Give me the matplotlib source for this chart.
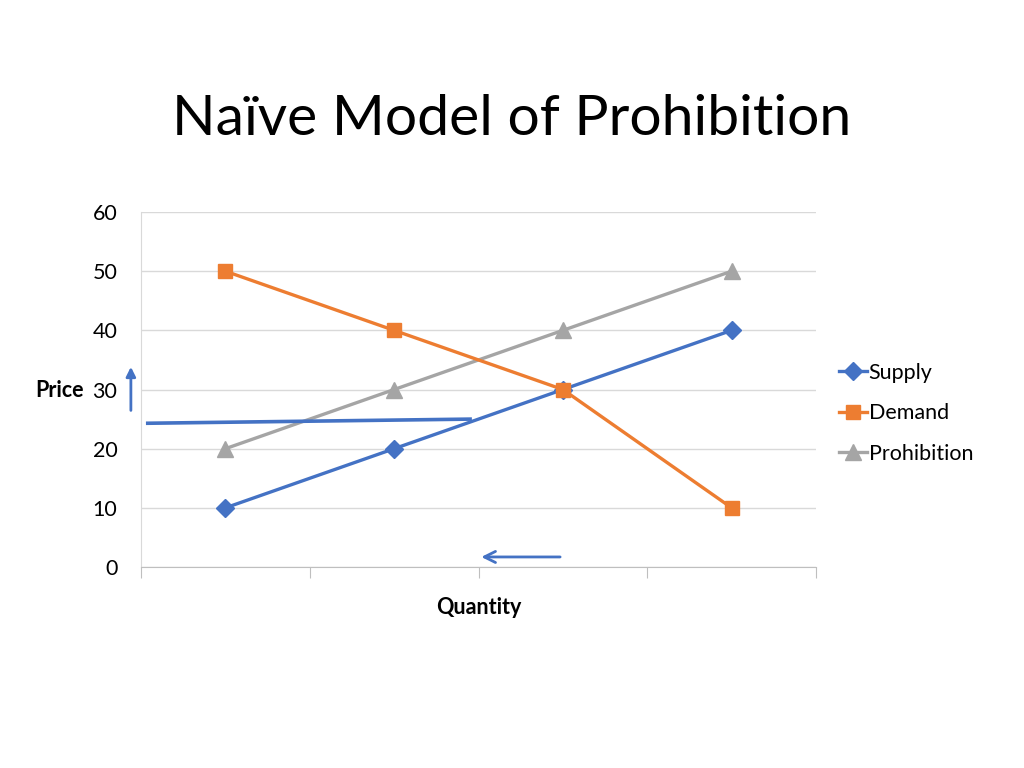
import numpy as np
import matplotlib.pyplot as plt
from matplotlib.lines import Line2D

# chart data
categories = ['1', '2', '3', '4']
supply = [10, 20, 30, 40]
demand = [50, 40, 30, 10]
prohibition = [20, 30, 40, 50]

# hand-drawn annotations (data units: x = category index, y = price)
shift_line_x = [-0.46, 1.45]
shift_line_y = [24.3, 25.0]
up_arrow = ((-0.56, 26.0), (-0.56, 34.3))
left_arrow = ((2.0, 1.7), (1.5, 1.7))

BLUE = '#4472C4'
ORANGE = '#ED7D31'
GRAY = '#A5A5A5'

plt.rcParams['font.family'] = ['Lato', 'DejaVu Sans']

fig = plt.figure(figsize=(10.24, 7.68), dpi=100)
ax = fig.add_axes([0.1377, 0.2617, 0.6592, 0.4622])

x = np.arange(len(categories))
ax.plot(x, supply, color=BLUE, lw=2.4, marker='D', ms=9, label='Supply', zorder=3)
ax.plot(x, demand, color=ORANGE, lw=2.4, marker='s', ms=10, label='Demand', zorder=3)
ax.plot(x, prohibition, color=GRAY, lw=2.4, marker='^', ms=11, label='Prohibition', zorder=2)

# shifted line and arrows
ax.plot(shift_line_x, shift_line_y, color=BLUE, lw=2.6, clip_on=False, zorder=4)
ax.annotate('', xy=up_arrow[1], xytext=up_arrow[0], annotation_clip=False,
            arrowprops=dict(arrowstyle='-|>', color=BLUE, lw=2, mutation_scale=14))
ax.annotate('', xy=left_arrow[1], xytext=left_arrow[0],
            arrowprops=dict(arrowstyle='->', color=BLUE, lw=2, mutation_scale=20))

ax.set_xlim(-0.5, len(categories) - 0.5)
ax.set_ylim(0, 60)
ax.set_yticks(range(0, 61, 10))
ax.set_xticks(np.arange(-0.5, len(categories)), minor=False)
ax.set_xticklabels([])
ax.tick_params(axis='x', length=8, color='#bfbfbf', direction='out')
ax.tick_params(axis='y', length=0, labelsize=15.5, pad=17)

ax.grid(axis='y', color='#d9d9d9', lw=1)
ax.set_axisbelow(True)
for s in ['top', 'right']:
    ax.spines[s].set_visible(False)
ax.spines['left'].set_color('#d9d9d9')
ax.spines['bottom'].set_color('#bfbfbf')

ax.set_xlabel('Quantity', fontsize=15.5, fontweight='bold', labelpad=10)
fig.text(0.082, 0.491, 'Price', fontsize=15.5, fontweight='bold', ha='right', va='center')

fig.suptitle('Naïve Model of Prohibition', x=0.5, y=0.878, fontsize=41, fontweight='normal')

handles = [
    Line2D([], [], color=BLUE, lw=2.4, marker='D', ms=9),
    Line2D([], [], color=ORANGE, lw=2.4, marker='s', ms=10),
    Line2D([], [], color=GRAY, lw=2.4, marker='^', ms=11),
]
fig.legend(handles, ['Supply', 'Demand', 'Prohibition'], loc='center left',
           bbox_to_anchor=(0.8, 0.462), frameon=False, fontsize=15.5,
           handlelength=1.3, handletextpad=0.1, labelspacing=0.95)

fig.savefig('out.png', dpi=100)
